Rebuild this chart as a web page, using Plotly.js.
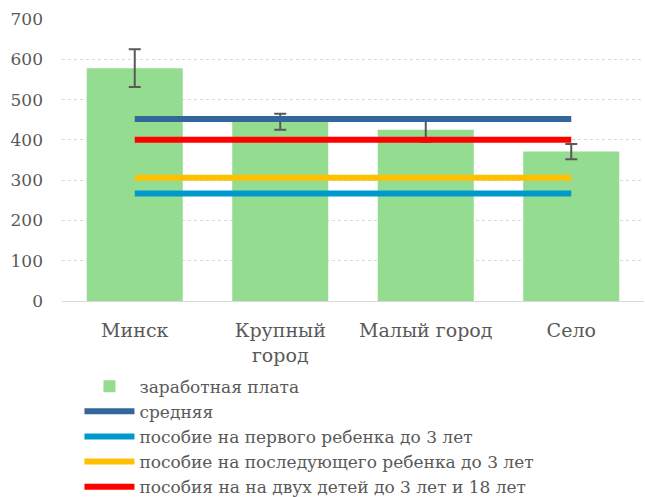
<!DOCTYPE html>
<html><head><meta charset="utf-8">
<script src="https://cdn.plot.ly/plotly-3.0.1.min.js"></script>
<style>html,body{margin:0;padding:0;background:#fff}</style>
</head><body>
<div id="chart" style="width:645px;height:497px"></div>
<script>
const categories = ["Минск", "Крупный<br>город", "Малый город", "Село"];
const wages = [578, 445, 425, 371];
const wageErr = [47, 20, 30, 19];
const average = [452, 452, 452, 452];
const firstChild = [267, 267, 267, 267];
const nextChild = [306, 306, 306, 306];
const twoChildren = [400, 400, 400, 400];
const names = ["заработная плата", "средняя", "пособие на первого ребенка до 3 лет",
  "пособие на последующего ребенка до 3 лет", "пособия на на двух детей до 3 лет и 18 лет"];

const lineTrace = (y, name, color) => ({
  type: "scatter", mode: "lines", x: categories, y: y, name: name,
  line: {color: color, width: 6}, hoverinfo: "skip"
});

const data = [
  {type: "bar", x: categories, y: wages, name: names[0], marker: {color: "#94DC90"},
   error_y: {type: "data", array: wageErr, visible: true, color: "#595959", thickness: 2, width: 6}},
  lineTrace(average, names[1], "#336699"),
  lineTrace(firstChild, names[2], "#0099CC"),
  lineTrace(nextChild, names[3], "#FFC000"),
  lineTrace(twoChildren, names[4], "#FF0000")
];

const fam = "DejaVu Serif";
const font = {family: fam, size: 17, color: "#595959"};
const legendFont = {family: fam, size: 17, color: "#595959"};
const xFont = {family: fam, size: 19, color: "#595959"};
const layout = {
  width: 645, height: 497,
  margin: {l: 62, r: 1, t: 19, b: 196, autoexpand: false},
  paper_bgcolor: "#fff", plot_bgcolor: "#fff",
  font: font,
  bargap: 0.34,
  showlegend: true,
  legend: {x: 0.03, xanchor: "left", y: -0.24, yanchor: "top",
    orientation: "v", font: legendFont, itemwidth: 50, tracegroupgap: 0, bgcolor: "rgba(0,0,0,0)"},
  xaxis: {showline: true, linecolor: "#d9d9d9", linewidth: 1, showgrid: false, tickangle: 0,
    ticks: "", tickfont: xFont, ticklabelstandoff: 12, fixedrange: true},
  yaxis: {range: [0, 700], dtick: 100, showgrid: true, gridcolor: "#d9d9d9", griddash: "dot",
    zeroline: false, showline: false, ticks: "", ticklabelstandoff: 18, tickfont: font}
};
Plotly.newPlot("chart", data, layout, {displayModeBar: false, staticPlot: true});
</script>
</body></html>
